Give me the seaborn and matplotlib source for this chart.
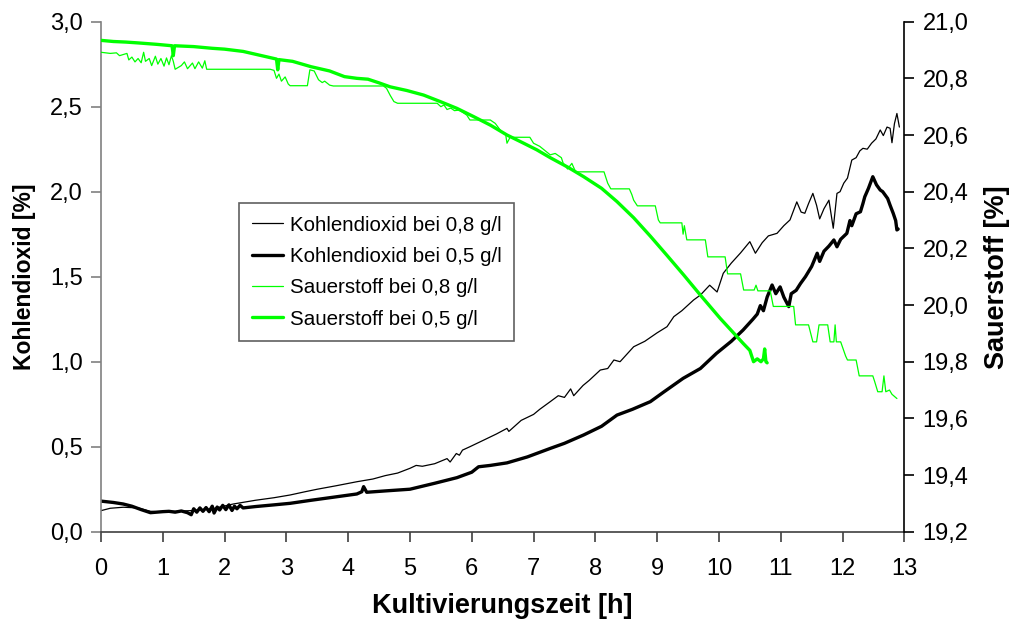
import matplotlib
matplotlib.use("Agg")
import matplotlib.pyplot as plt
from matplotlib.ticker import FuncFormatter
import seaborn as sns

# Kohlendioxid bei 0,8 g/l (linke Achse, %)
co2_08_t = [0.0, 0.15, 0.36, 0.6, 0.8, 0.9, 1.2, 1.5, 1.8, 2.14, 2.5, 2.8, 3.06, 3.3, 3.5, 3.8,
            4.14, 4.4, 4.6, 4.8, 5.0, 5.1, 5.2, 5.4, 5.6, 5.65, 5.75, 5.8, 5.85, 5.97, 6.2, 6.4,
            6.57, 6.6, 6.8, 7.0, 7.1, 7.27, 7.4, 7.5, 7.6, 7.65, 7.8, 7.9, 8.08, 8.2, 8.3, 8.4,
            8.62, 8.8, 9.0, 9.16, 9.27, 9.4, 9.59, 9.7, 9.85, 9.97, 10.07, 10.2, 10.35, 10.5,
            10.59, 10.7, 10.8, 10.94, 11.05, 11.15, 11.26, 11.33, 11.39, 11.45, 11.52, 11.58,
            11.63, 11.7, 11.78, 11.85, 11.91, 11.96, 12.02, 12.08, 12.15, 12.22, 12.28, 12.33,
            12.4, 12.47, 12.54, 12.61, 12.66, 12.72, 12.77, 12.8, 12.84, 12.88, 12.92]
co2_08 = [0.124, 0.138, 0.144, 0.14, 0.12, 0.118, 0.12, 0.125, 0.135, 0.163, 0.185, 0.2, 0.216,
          0.235, 0.25, 0.27, 0.294, 0.31, 0.33, 0.345, 0.373, 0.39, 0.385, 0.40, 0.43, 0.41,
          0.46, 0.45, 0.48, 0.50, 0.54, 0.575, 0.608, 0.59, 0.655, 0.69, 0.72, 0.765, 0.80,
          0.79, 0.84, 0.80, 0.86, 0.89, 0.951, 0.96, 1.01, 1.0, 1.088, 1.12, 1.17, 1.206,
          1.265, 1.30, 1.363, 1.392, 1.45, 1.41, 1.52, 1.58, 1.64, 1.706, 1.638, 1.70, 1.74,
          1.755, 1.80, 1.834, 1.94, 1.88, 1.873, 1.93, 1.99, 1.92, 1.84, 1.90, 1.95, 1.785,
          1.99, 2.0, 2.05, 2.08, 2.186, 2.20, 2.24, 2.255, 2.25, 2.285, 2.31, 2.363, 2.33,
          2.38, 2.373, 2.288, 2.40, 2.46, 2.38]

# Kohlendioxid bei 0,5 g/l (linke Achse, %)
co2_05_t = [0.0, 0.2, 0.36, 0.5, 0.65, 0.8, 0.9, 1.0, 1.1, 1.2, 1.3, 1.4, 1.46, 1.5, 1.55, 1.6,
            1.65, 1.7, 1.75, 1.8, 1.83, 1.88, 1.92, 1.97, 2.02, 2.07, 2.12, 2.16, 2.2, 2.25, 2.3,
            2.5, 2.8, 3.06, 3.4, 3.7, 4.0, 4.14, 4.22, 4.25, 4.3, 4.6, 5.0, 5.4, 5.76, 6.0, 6.11,
            6.3, 6.57, 6.9, 7.27, 7.5, 7.81, 8.1, 8.35, 8.6, 8.89, 9.1, 9.42, 9.7, 9.96, 10.2,
            10.39, 10.55, 10.62, 10.67, 10.72, 10.78, 10.86, 10.92, 10.99, 11.05, 11.13, 11.17,
            11.25, 11.32, 11.4, 11.5, 11.59, 11.63, 11.7, 11.78, 11.86, 11.91, 11.97, 12.07,
            12.12, 12.15, 12.22, 12.29, 12.33, 12.36, 12.42, 12.49, 12.55, 12.61, 12.65, 12.69,
            12.73, 12.77, 12.82, 12.86, 12.88, 12.9]
co2_05 = [0.18, 0.172, 0.163, 0.15, 0.13, 0.112, 0.115, 0.118, 0.12, 0.115, 0.122, 0.112, 0.10,
          0.135, 0.115, 0.14, 0.12, 0.142, 0.118, 0.15, 0.11, 0.145, 0.128, 0.155, 0.13, 0.158,
          0.125, 0.15, 0.135, 0.155, 0.14, 0.148, 0.158, 0.167, 0.185, 0.2, 0.215, 0.222, 0.235,
          0.265, 0.232, 0.24, 0.25, 0.285, 0.318, 0.35, 0.382, 0.39, 0.405, 0.44, 0.49, 0.52,
          0.569, 0.62, 0.686, 0.72, 0.765, 0.82, 0.902, 0.96, 1.049, 1.12, 1.186, 1.25, 1.28,
          1.33, 1.30, 1.38, 1.451, 1.40, 1.44, 1.38, 1.324, 1.40, 1.42, 1.46, 1.50, 1.56, 1.638,
          1.59, 1.65, 1.68, 1.716, 1.676, 1.72, 1.755, 1.83, 1.80, 1.87, 1.882, 1.93, 1.97, 2.02,
          2.088, 2.04, 2.01, 2.00, 1.98, 1.96, 1.92, 1.873, 1.83, 1.775, 1.78]

# Sauerstoff bei 0,8 g/l (rechte Achse, %)
o2_08_t = [0.0, 0.15, 0.25, 0.3, 0.42, 0.45, 0.5, 0.55, 0.6, 0.65, 0.69, 0.72, 0.78, 0.82, 0.88,
           0.92, 0.97, 1.02, 1.06, 1.1, 1.14, 1.17, 1.2, 1.3, 1.35, 1.4, 1.48, 1.52, 1.58, 1.64,
           1.68, 1.71, 2.74, 2.8, 2.84, 2.88, 2.92, 2.98, 3.03, 3.06, 3.34, 3.38, 3.45, 3.52,
           3.58, 3.62, 3.7, 3.76, 4.57, 4.62, 4.68, 4.74, 4.8, 5.44, 5.5, 5.55, 5.6, 5.66, 5.72,
           5.8, 5.92, 5.97, 6.3, 6.38, 6.48, 6.55, 6.57, 6.62, 6.94, 7.0, 7.1, 7.27, 7.35, 7.45,
           7.48, 7.52, 7.55, 7.62, 7.68, 8.14, 8.2, 8.25, 8.55, 8.59, 8.62, 8.68, 8.97, 9.02,
           9.05, 9.4, 9.42, 9.44, 9.48, 9.78, 9.82, 10.1, 10.14, 10.35, 10.4, 10.57, 10.6, 10.63,
           10.83, 10.88, 11.21, 11.24, 11.45, 11.52, 11.58, 11.62, 11.76, 11.8, 11.86, 11.88,
           11.9, 11.97, 12.05, 12.08, 12.22, 12.27, 12.49, 12.52, 12.57, 12.64, 12.67, 12.7,
           12.76, 12.8, 12.88]
o2_08 = [20.892, 20.888, 20.890, 20.880, 20.888, 20.865, 20.875, 20.858, 20.870, 20.855, 20.892,
         20.860, 20.870, 20.845, 20.878, 20.850, 20.870, 20.843, 20.872, 20.848, 20.880, 20.860,
         20.832, 20.845, 20.858, 20.834, 20.854, 20.834, 20.858, 20.836, 20.862, 20.832, 20.832,
         20.828, 20.800, 20.815, 20.790, 20.805, 20.780, 20.774, 20.774, 20.830, 20.826, 20.795,
         20.785, 20.790, 20.776, 20.773, 20.773, 20.765, 20.740, 20.718, 20.712, 20.712, 20.700,
         20.706, 20.690, 20.695, 20.686, 20.688, 20.670, 20.653, 20.653, 20.641, 20.612, 20.600,
         20.571, 20.592, 20.592, 20.571, 20.560, 20.530, 20.535, 20.520, 20.500, 20.490, 20.480,
         20.500, 20.470, 20.470, 20.430, 20.410, 20.410, 20.390, 20.370, 20.350, 20.350, 20.300,
         20.290, 20.290, 20.250, 20.280, 20.230, 20.230, 20.170, 20.170, 20.110, 20.110, 20.053,
         20.053, 20.070, 20.050, 20.050, 19.995, 19.995, 19.930, 19.930, 19.870, 19.870, 19.930,
         19.930, 19.870, 19.870, 19.930, 19.870, 19.870, 19.820, 19.806, 19.806, 19.750, 19.750,
         19.730, 19.694, 19.694, 19.750, 19.694, 19.700, 19.685, 19.670]

# Sauerstoff bei 0,5 g/l (rechte Achse, %)
o2_05_t = [0.0, 0.2, 0.4, 0.6, 0.9, 1.15, 1.17, 1.19, 1.5, 1.8, 2.0, 2.3, 2.6, 2.84, 2.86, 2.88,
           3.1, 3.4, 3.7, 3.94, 4.14, 4.32, 4.5, 4.68, 4.95, 5.22, 5.49, 5.76, 6.03, 6.3, 6.57,
           6.84, 7.05, 7.27, 7.55, 7.81, 8.1, 8.35, 8.62, 8.89, 9.16, 9.43, 9.7, 10.02, 10.18,
           10.39, 10.5, 10.56, 10.62, 10.68, 10.72, 10.74, 10.76, 10.78]
o2_05 = [20.934, 20.930, 20.928, 20.925, 20.920, 20.915, 20.880, 20.915, 20.912, 20.906, 20.903,
         20.895, 20.880, 20.868, 20.830, 20.866, 20.860, 20.841, 20.826, 20.806, 20.800, 20.797,
         20.784, 20.770, 20.757, 20.741, 20.718, 20.694, 20.665, 20.635, 20.600, 20.571, 20.548,
         20.520, 20.487, 20.453, 20.412, 20.365, 20.308, 20.243, 20.175, 20.106, 20.035, 19.953,
         19.915, 19.865, 19.840, 19.800, 19.810, 19.800, 19.810, 19.845, 19.800, 19.796]

labels = ["Kohlendioxid bei 0,8 g/l", "Kohlendioxid bei 0,5 g/l",
          "Sauerstoff bei 0,8 g/l", "Sauerstoff bei 0,5 g/l"]
green = "#00ff00"

sns.set_theme(style="white")
plt.rcParams["font.family"] = ["Liberation Sans", "DejaVu Sans"]
plt.rcParams["text.color"] = "black"
plt.rcParams["axes.labelcolor"] = "black"

fig = plt.figure(figsize=(10.12, 6.19), dpi=100)
ax = fig.add_axes([0.0998, 0.141, 0.7938, 0.824])
ax2 = ax.twinx()

sns.lineplot(x=co2_08_t, y=co2_08, ax=ax, color="black", linewidth=0.9,
             estimator=None, sort=False, label=labels[0], legend=False)
sns.lineplot(x=co2_05_t, y=co2_05, ax=ax, color="black", linewidth=2.4,
             estimator=None, sort=False, label=labels[1], legend=False)
sns.lineplot(x=o2_08_t, y=o2_08, ax=ax2, color=green, linewidth=0.9,
             estimator=None, sort=False, label=labels[2], legend=False)
sns.lineplot(x=o2_05_t, y=o2_05, ax=ax2, color=green, linewidth=2.4,
             estimator=None, sort=False, label=labels[3], legend=False)

ax.set_xlim(0, 13)
ax.set_ylim(0, 3)
ax2.set_ylim(19.2, 21.0)
ax.set_xticks(range(0, 14))
ax.set_yticks([0, 0.5, 1.0, 1.5, 2.0, 2.5, 3.0])
ax2.set_yticks([19.2, 19.4, 19.6, 19.8, 20.0, 20.2, 20.4, 20.6, 20.8, 21.0])
comma = FuncFormatter(lambda v, p: f"{v:.1f}".replace(".", ","))
ax.yaxis.set_major_formatter(comma)
ax2.yaxis.set_major_formatter(comma)

for a in (ax, ax2):
    a.spines["top"].set_visible(False)
    a.grid(False)
ax.spines["right"].set_visible(False)
ax2.spines["left"].set_visible(False)
ax2.spines["bottom"].set_visible(False)
ax.spines["left"].set_color("#808080")
ax.spines["bottom"].set_color("#404040")
ax2.spines["right"].set_color("black")
for s in ("left", "bottom"):
    ax.spines[s].set_linewidth(1.2)
ax2.spines["right"].set_linewidth(1.2)

ax.tick_params(axis="x", bottom=True, direction="out", length=7, width=1.2,
               color="#404040", labelcolor="black", labelsize=17, pad=12)
ax.tick_params(axis="y", left=True, direction="out", length=7, width=1.2,
               color="#808080", labelcolor="black", labelsize=17, pad=6)
ax2.tick_params(axis="y", right=True, direction="out", length=7, width=1.2,
                color="black", labelcolor="black", labelsize=17, pad=6)

ax.set_xlabel("Kultivierungszeit [h]", fontsize=19.5, fontweight="bold", labelpad=9)
ax.set_ylabel("Kohlendioxid [%]", fontsize=16.5, fontweight="bold", labelpad=10)
ax2.set_ylabel("Sauerstoff [%]", fontsize=19.5, fontweight="bold", labelpad=11)

handles = ax.get_lines() + ax2.get_lines()
leg = ax.legend(handles, labels, loc="upper left", bbox_to_anchor=(0.172, 0.644),
                borderaxespad=0, fontsize=14.8, frameon=True, fancybox=False,
                handlelength=1.55, handletextpad=0.3, labelspacing=0.6, borderpad=0.6)
leg.get_frame().set_edgecolor("#606060")
leg.get_frame().set_linewidth(1.2)
leg.get_frame().set_alpha(1)

fig.savefig("out.png", dpi=100)
